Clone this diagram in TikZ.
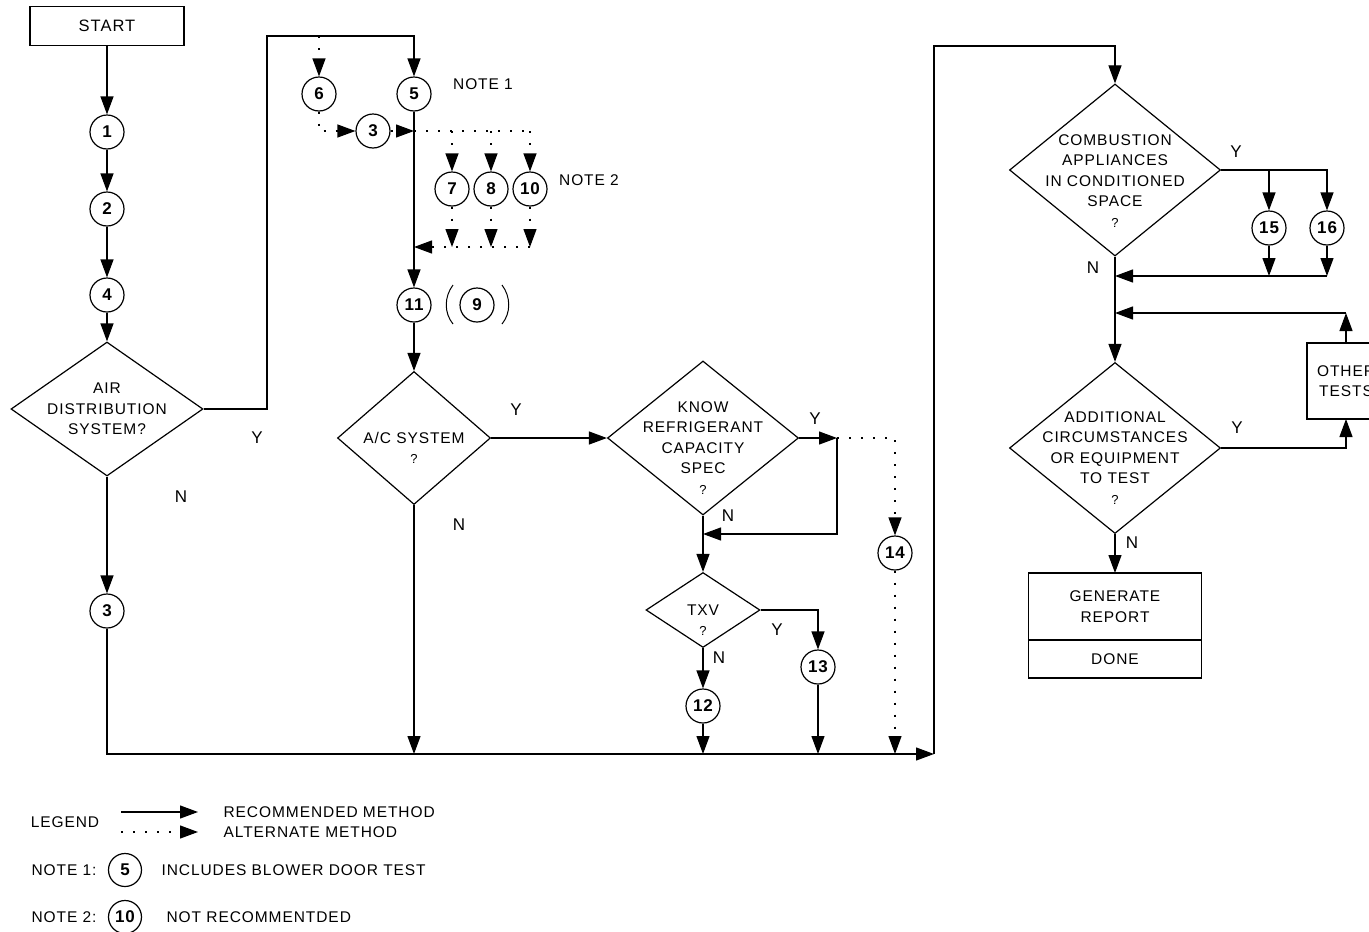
\documentclass[tikz,border=0pt]{standalone}
\usepackage{fontspec}
\setmainfont{Liberation Sans}[LetterSpace=6]
\usetikzlibrary{arrows.meta, shapes.geometric, positioning, calc}
\newcommand{\qmark}{{\fontsize{13}{13}\selectfont ?}}

\begin{document}
\begin{tikzpicture}[
  x=1pt, y=-1pt, line width=1.2pt,
  every node/.style={font=\fontsize{15.5}{20.5}\selectfont},
  stepno/.style={circle, draw, minimum size=34pt, inner sep=0pt, font=\fontsize{17}{17}\selectfont\bfseries},
  decision/.style={diamond, draw, inner sep=0pt},
  dtext/.style={align=center, inner sep=0pt},
  procbox/.style={rectangle, draw, align=center, inner sep=0pt, outer sep=0pt},
  yn/.style={font=\fontsize{17}{17}\selectfont, inner sep=0pt},
  flow/.style={-{Triangle[length=18pt,width=13pt]}},
  alt/.style={dash pattern=on 2pt off 10pt}
]
  \useasboundingbox (0,0) rectangle (1369,932);
  \fill[white] (0,0) rectangle (1369,932);

  % left column
  \node[procbox, minimum width=154pt, minimum height=39pt, font=\fontsize{16.5}{20}\selectfont] (start) at (107,26) {START};
  \node[stepno] (s1) at (107,132) {1};
  \node[stepno] (s2) at (107,209) {2};
  \node[stepno] (s4) at (107,295) {4};
  \node[decision, minimum width=192pt, minimum height=134pt] (air) at (107,409) {};
  \node[dtext] (air-t) at (air.center) {AIR\\DISTRIBUTION\\SYSTEM?};
  \node[stepno] (s3a) at (107,611) {3};

  \draw[flow] (start) -- (s1);
  \draw[flow] (s1) -- (s2);
  \draw[flow] (s2) -- (s4);
  \draw[flow] (s4) -- (air);
  \draw[flow] (air) -- (s3a);
  \node[yn] (air-y) at (257,438) {Y};
  \node[yn] (air-n) at (181,497) {N};

  % air distribution branch
  \node[stepno] (s6) at (319,94) {6};
  \node[stepno] (s5) at (414,94) {5};
  \node (note1) at (483,84) {NOTE 1};
  \node[stepno] (s3b) at (373,131) {3};
  \coordinate (top6) at (319,36);
  \coordinate (j1) at (414,131);
  \coordinate (j2) at (414,247);

  \draw[flow] (air.east) -| (267,36) -| (s5);
  \draw[alt, flow] (top6) -- (s6);
  \draw[alt, flow] (s6) |- (s3b);
  \draw[alt, flow] (s3b) -- (j1);
  \draw[alt] (j1) -- (530,131);
  \foreach \n/\x in {7/452, 8/491, 10/530} {
    \node[stepno] (s\n) at (\x,189) {\n};
    \draw[alt, flow] (\x,131) -- (s\n);
    \draw[alt, flow] (s\n) -- (\x,247);
  }
  \draw[alt, flow] (530,247) -- (j2);
  \node (note2) at (589,180) {NOTE 2};

  \node[stepno] (s11) at (414,305) {11};
  \node[stepno] (s9) at (477,305) {9};
  \draw[line width=1pt] ($(s9)+(-24,-20)$) .. controls ($(s9)+(-33,-8)$) and ($(s9)+(-33,8)$) .. ($(s9)+(-24,19)$);
  \draw[line width=1pt] ($(s9)+(25,-20)$) .. controls ($(s9)+(34,-8)$) and ($(s9)+(34,8)$) .. ($(s9)+(25,19)$);
  \draw[flow] (s5) -- (s11);

  % a/c system
  \node[decision, minimum width=153pt, minimum height=133pt] (ac) at (414,438) {};
  \node[dtext] (ac-t) at ([yshift=-10pt]ac.center) {A/C SYSTEM\\\qmark};
  \draw[flow] (s11) -- (ac);
  \node[yn] (ac-y) at (516,410) {Y};
  \node[yn] (ac-n) at (459,525) {N};

  \node[decision, minimum width=191pt, minimum height=154pt] (know) at (703,438) {};
  \node[dtext] (know-t) at ([yshift=-10pt]know.center) {KNOW\\REFRIGERANT\\CAPACITY\\SPEC\\\qmark};
  \draw[flow] (ac) -- (know);
  \node[yn] (know-y) at (815,419) {Y};
  \node[yn] (know-n) at (728,516) {N};

  \coordinate (ky) at (837,438);
  \coordinate (kn) at (703,534);
  \draw[flow] (know) -- (ky);
  \draw[flow] (ky) |- (kn);
  \node[stepno] (s14) at (895,553) {14};
  \draw[alt, flow] (ky) -| (s14);

  \node[decision, minimum width=114pt, minimum height=75pt] (txv) at (703,610) {};
  \node[dtext] (txv-t) at ([yshift=-10pt]txv.center) {TXV\\\qmark};
  \draw[flow] (know) -- (txv);
  \node[yn] (txv-y) at (777,630) {Y};
  \node[yn] (txv-n) at (719,658) {N};
  \node[stepno] (s13) at (818,667) {13};
  \node[stepno] (s12) at (703,706) {12};
  \draw[flow] (txv) -| (s13);
  \draw[flow] (txv) -- (s12);

  % bottom collector
  \coordinate (jr) at (934,754);
  \draw[flow] (s3a) |- (jr);
  \draw[flow] (ac) -- (414,754);
  \draw[flow] (s12) -- (703,754);
  \draw[flow] (s13) -- (818,754);
  \draw[alt, flow] (s14) -- (895,754);

  % combustion appliances
  \node[decision, minimum width=211pt, minimum height=172pt] (comb) at (1115,170) {};
  \node[dtext] (comb-t) at ([yshift=-11pt]comb.center) {COMBUSTION\\APPLIANCES\\IN CONDITIONED\\SPACE\\\qmark};
  \draw[flow] (jr) -- (934,46) -| (comb);
  \node[yn] (comb-y) at (1236,152) {Y};
  \node[yn] (comb-n) at (1093,268) {N};
  \node[stepno] (s15) at (1269,228) {15};
  \node[stepno] (s16) at (1327,228) {16};
  \draw[flow] (comb) -| (s16);
  \draw[flow] (1269,170) -- (s15);
  \draw[flow] (s15) -- (1269,276);
  \draw[flow] (s16) -- (1327,276);
  \draw[flow] (1327,276) -- (1115,276);

  % additional tests
  \node[decision, minimum width=211pt, minimum height=171pt] (add) at (1115,448) {};
  \node[dtext] (add-t) at ([yshift=-10pt]add.center) {ADDITIONAL\\CIRCUMSTANCES\\OR EQUIPMENT\\TO TEST\\\qmark};
  \draw[flow] (comb) -- (add);
  \node[yn] (add-y) at (1237,428) {Y};
  \node[yn] (add-n) at (1132,543) {N};
  \node[procbox, minimum width=78pt, minimum height=76pt] (other) at (1346,381) {OTHER\\TESTS};
  \draw[flow] (add) -| (other);
  \draw[flow] (other) -- (1346,313);
  \draw[flow] (1346,313) -- (1115,313);

  \node[procbox, minimum width=173pt, minimum height=67pt] (gen) at (1115,606.5) {GENERATE\\REPORT};
  \node[procbox, minimum width=173pt, minimum height=38pt, below=0pt of gen] (done) {DONE};
  \draw[flow] (add) -- (gen);

  % legend
  \node (legend) at (65,822) {LEGEND};
  \coordinate (l1a) at (121,812);
  \coordinate (l1b) at (198,812);
  \coordinate (l2a) at (121,832);
  \coordinate (l2b) at (198,832);
  \draw[flow] (l1a) -- (l1b);
  \draw[alt, flow] (l2a) -- (l2b);
  \node[anchor=west, inner sep=0pt] (rec) at (223,812) {RECOMMENDED METHOD};
  \node[anchor=west, inner sep=0pt] (alt) at (223,832) {ALTERNATE METHOD};
  \node[anchor=west, inner sep=0pt] (n1) at (31,870) {NOTE 1:};
  \node[stepno, minimum size=33pt] (n1c) at (125,870) {5};
  \node[anchor=west, inner sep=0pt] (n1t) at (161,870) {INCLUDES BLOWER DOOR TEST};
  \node[anchor=west, inner sep=0pt] (n2) at (31,917) {NOTE 2:};
  \node[stepno, minimum size=33pt] (n2c) at (125,917) {10};
  \node[anchor=west, inner sep=0pt] (n2t) at (166,917) {NOT RECOMMENTDED};
\end{tikzpicture}
\end{document}
